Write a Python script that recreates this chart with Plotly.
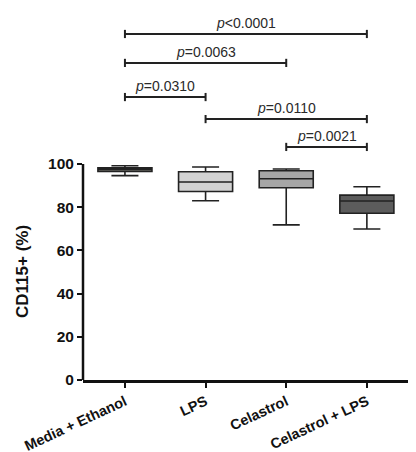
import plotly.graph_objects as go

categories = ["Media + Ethanol", "LPS", "Celastrol", "Celastrol + LPS"]
lower = [94.6, 83.0, 71.8, 69.9]
q1 = [96.6, 87.3, 89.0, 77.2]
median = [97.5, 91.7, 93.2, 82.9]
q3 = [98.3, 96.4, 96.9, 85.6]
upper = [99.2, 98.6, 97.7, 89.5]
fills = ["#dcdccc", "#d2d2d2", "#a6a6a6", "#5c5c5c"]

comp_from = [0, 0, 0, 1, 2]
comp_to = [3, 2, 1, 3, 3]
comp_labels = ["<i>p</i><0.0001", "<i>p</i>=0.0063", "<i>p</i>=0.0310",
               "<i>p</i>=0.0110", "<i>p</i>=0.0021"]
bracket_y = [160.2, 146.8, 131.0, 120.8, 107.9]

y_ticks = [0, 20, 40, 60, 80, 100]
y_title = "CD115+ (%)"

fig = go.Figure()
for i, c in enumerate(categories):
    fig.add_trace(go.Box(
        x=[i], q1=[q1[i]], median=[median[i]], q3=[q3[i]],
        lowerfence=[lower[i]], upperfence=[upper[i]], name=c,
        fillcolor=fills[i], line=dict(color="#222222", width=1.6),
        width=0.67, whiskerwidth=0.5, boxpoints=False, showlegend=False,
        hoverinfo="skip",
    ))

shapes = []
annotations = []
tick_h = 1.9
for a, b, lab, y in zip(comp_from, comp_to, comp_labels, bracket_y):
    shapes.append(dict(type="line", xref="x", yref="y", x0=a, x1=b, y0=y, y1=y,
                       line=dict(color="#222222", width=2)))
    for xx in (a, b):
        shapes.append(dict(type="line", xref="x", yref="y", x0=xx, x1=xx,
                           y0=y - tick_h, y1=y + tick_h,
                           line=dict(color="#222222", width=2)))
    annotations.append(dict(x=(a + b) / 2, y=y, xref="x", yref="y", text=lab,
                            showarrow=False, yanchor="bottom", yshift=1,
                            font=dict(family="Liberation Sans, Arial", size=14,
                                      color="#2a2a2a")))

# y-axis title centred on the 0-100 span
annotations.append(dict(x=0, y=50, xref="paper", yref="y", xshift=-61, text=y_title,
                        textangle=-90, showarrow=False, xanchor="center", yanchor="middle",
                        font=dict(family="Liberation Sans, Arial", size=17,
                                  weight="bold", color="#111111")))

# y axis line only from 0 to 100
shapes.append(dict(type="line", xref="paper", yref="y", x0=0, x1=0, y0=0, y1=100,
                   line=dict(color="#111111", width=2.5)))

fig.update_layout(
    width=416, height=452,
    margin=dict(l=83, r=8, t=10, b=72),
    plot_bgcolor="white", paper_bgcolor="white",
    boxmode="overlay",
    shapes=shapes, annotations=annotations,
    font=dict(family="Liberation Sans, Arial", color="#111111"),
    xaxis=dict(type="linear", range=[-0.52, 3.51], showline=True, linecolor="#111111",
               linewidth=2.5, automargin=False,
               ticks="outside", ticklen=5, tickwidth=2, tickcolor="#111111",
               tickangle=-25, tickvals=list(range(4)), ticktext=categories,
               tickfont=dict(size=14.5, weight="bold"), showgrid=False, zeroline=False),
    yaxis=dict(range=[0, 171.3], showline=False, tickvals=y_ticks, automargin=False,
               ticks="outside", ticklen=5, tickwidth=2, tickcolor="#111111",
               tickfont=dict(size=15.5, weight="bold"), showgrid=False, zeroline=False),
)
fig.write_html("out.html")
